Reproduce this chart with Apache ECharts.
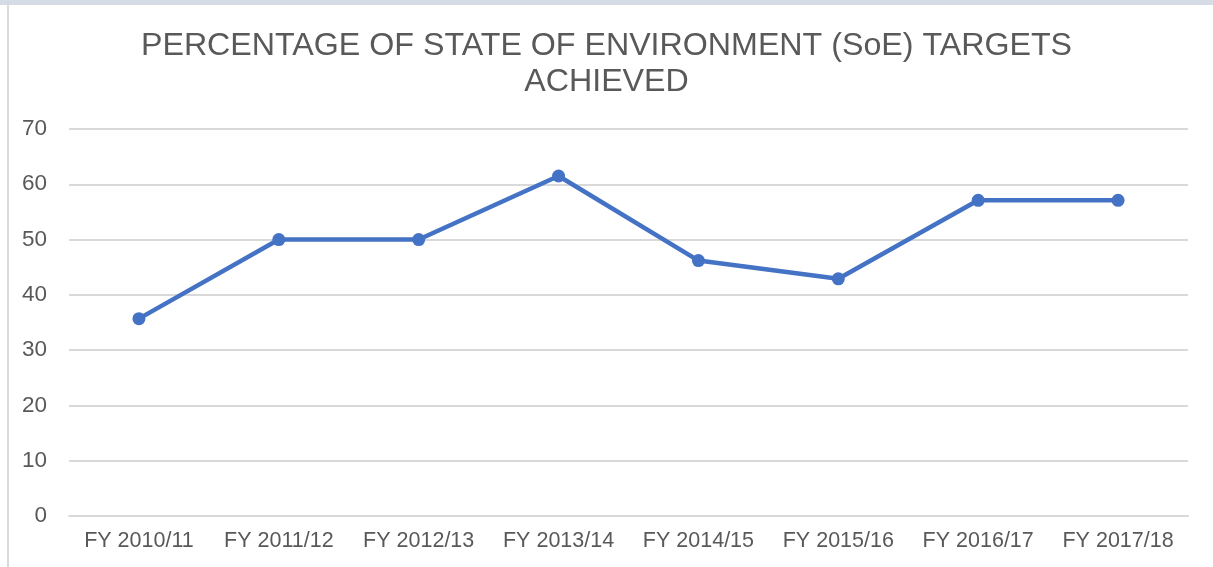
<!DOCTYPE html>
<html>
<head>
<meta charset="utf-8">
<script src="https://cdn.jsdelivr.net/npm/echarts@6/dist/echarts.min.js"></script>
<style>
html, body { margin: 0; padding: 0; background: #fff; }
#topbar { position: absolute; left: 0; top: 0; width: 1213px; height: 5px; background: #d6dce5; }
#leftline { position: absolute; left: 7px; top: 5px; width: 2px; height: 562px; background: #d9d9d9; }
#chart { position: absolute; left: 0; top: 0; width: 1213px; height: 567px; }
</style>
</head>
<body>
<div id="topbar"></div>
<div id="leftline"></div>
<div id="chart"></div>
<script>
var years = ["FY 2010/11", "FY 2011/12", "FY 2012/13", "FY 2013/14", "FY 2014/15", "FY 2015/16", "FY 2016/17", "FY 2017/18"];
var achieved = [35.7, 50, 50, 61.5, 46.2, 42.9, 57.1, 57.1];
var yTicks = [0, 10, 20, 30, 40, 50, 60, 70];

var c = echarts.init(document.getElementById("chart"));
c.setOption({
    animation: false,
    title: {
        text: "PERCENTAGE OF STATE OF ENVIRONMENT (SoE) TARGETS\nACHIEVED",
        left: "center",
        top: 23,
        textStyle: {
            fontFamily: "Liberation Sans",
            fontSize: 32.2,
            fontWeight: "normal",
            color: "#595959",
            lineHeight: 36
        }
    },
    grid: {
        left: 69,
        right: 25,
        top: 129,
        bottom: 51
    },
    xAxis: {
        type: "category",
        data: years,
        axisLine: { show: true, lineStyle: { color: "#d9d9d9", width: 2 } },
        axisTick: { show: false },
        axisLabel: {
            interval: 0,
            margin: 14,
            fontFamily: "Liberation Sans",
            fontSize: 21.5,
            color: "#595959"
        }
    },
    yAxis: {
        type: "value",
        min: yTicks[0],
        max: yTicks[yTicks.length - 1],
        interval: 10,
        axisLine: { show: false },
        axisTick: { show: false },
        splitLine: { lineStyle: { color: "#d9d9d9", width: 2 } },
        axisLabel: {
            margin: 22,
            fontFamily: "Liberation Sans",
            fontSize: 22.5,
            color: "#595959"
        }
    },
    series: [{
        name: "Achieved",
        type: "line",
        data: achieved,
        symbol: "circle",
        symbolSize: 13,
        lineStyle: { color: "#4472c4", width: 4.5 },
        itemStyle: { color: "#4472c4" }
    }]
});
</script>
</body>
</html>
